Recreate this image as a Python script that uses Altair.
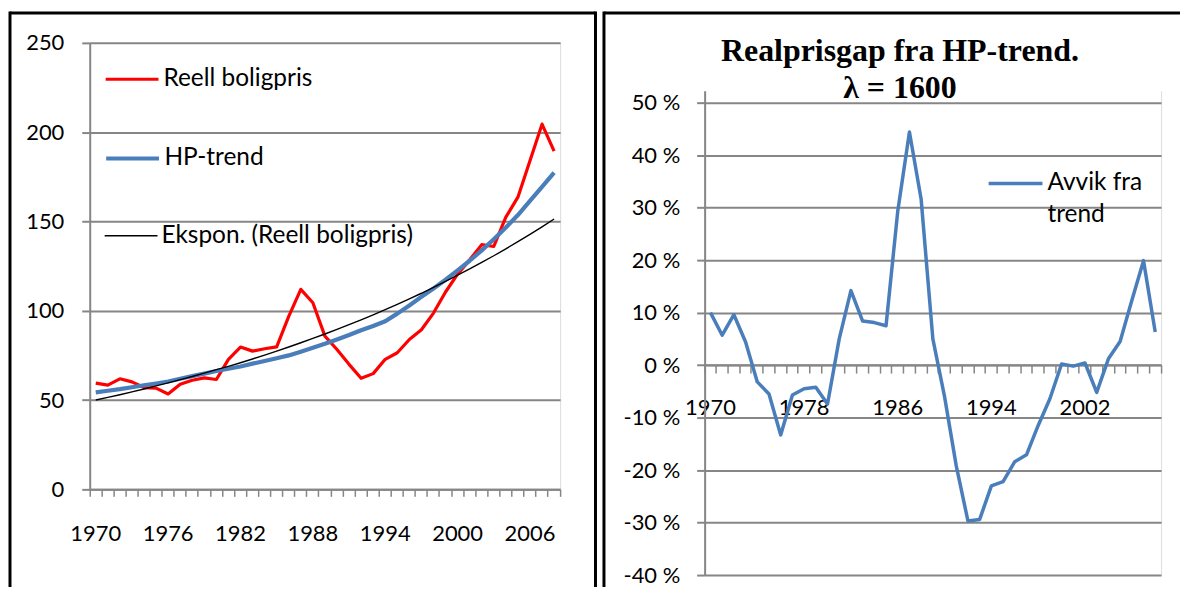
import altair as alt
import pandas as pd

years = list(range(1970, 2009))

reell = [59.5, 58.4, 61.9, 60.2, 57.0, 56.7, 53.4, 58.9, 61.1, 62.4,
         61.5, 72.8, 79.7, 77.4, 78.7, 79.8, 96.9, 112.0, 104.5, 85.8,
         78.3, 70.0, 62.2, 64.8, 72.8, 76.5, 83.9, 89.4, 98.7, 110.5,
         120.5, 128.5, 137.0, 136.0, 152.4, 163.6, 184.0, 204.5, 189.4]

hp_trend = [54.3, 55.2, 56.1, 57.2, 58.3, 59.3, 60.4, 61.9, 63.4, 64.8,
            66.3, 67.5, 68.8, 70.4, 71.9, 73.4, 75.0, 77.1, 79.3, 81.5,
            83.9, 86.4, 89.1, 91.5, 94.1, 98.4, 103.0, 107.8, 112.5, 117.4,
            122.6, 128.0, 133.8, 140.0, 146.6, 153.6, 161.5, 169.4, 177.4]

ekspon = [50.0, 51.5, 53.0, 54.6, 56.2, 57.9, 59.6, 61.4, 63.2, 65.1,
          67.0, 68.9, 70.9, 73.0, 75.2, 77.4, 79.7, 82.1, 84.5, 87.0,
          89.6, 92.2, 94.9, 97.7, 100.6, 103.6, 106.7, 109.8, 113.1, 116.4,
          119.9, 123.4, 127.1, 130.8, 134.7, 138.7, 142.8, 147.0, 151.4]

avvik = [10.0, 5.7, 9.6, 4.4, -3.2, -5.5, -13.3, -5.7, -4.5, -4.2,
         -7.4, 5.0, 14.2, 8.4, 8.1, 7.5, 29.3, 44.4, 31.6, 5.0,
         -6.0, -19.2, -29.7, -29.4, -23.0, -22.2, -18.4, -17.1, -11.5, -6.4,
         0.2, -0.2, 0.4, -5.2, 1.2, 4.5, 12.3, 19.9, 6.3]

left_names = ["Reell boligpris", "HP-trend", "Ekspon. (Reell boligpris)"]
left_colors = ["#FF0000", "#4A7EBB", "#000000"]
right_name = "Avvik fra trend"
right_color = "#4A7EBB"
left_ticks = [0, 50, 100, 150, 200, 250]
right_ticks = [-40, -30, -20, -10, 0, 10, 20, 30, 40, 50]
title_lines = ["Realprisgap fra HP-trend.", "λ = 1600"]

n = len(years)
left_df = pd.DataFrame({
    "year": years * 3,
    "value": reell + hp_trend + ekspon,
    "series": [left_names[0]] * n + [left_names[1]] * n + [left_names[2]] * n,
})
right_df = pd.DataFrame({"year": years, "value": avvik, "series": [right_name] * n})

GRID = "#868686"
BG = "#C0C0C0"
FONT = "Lato"
FS = 22
LFS = 24.5
one = alt.Data(values=[{"k": 1}])


def frame_rule(x1, x2, y1, y2):
    return alt.Chart(one).mark_rule(color="black", strokeWidth=3).encode(
        x=alt.value(x1), x2=alt.value(x2), y=alt.value(y1), y2=alt.value(y2))


# ---------- left panel ----------
LW, LH = 472, 448
x_left = alt.X("year:O", scale=alt.Scale(type="band", paddingInner=0, paddingOuter=0),
               axis=alt.Axis(title=None, labelAngle=0,
                             labelExpr="(datum.value - 1970) % 6 == 0 ? datum.label : ''",
                             labelFont=FONT, labelFontSize=FS, labelColor="black", labelPadding=27,
                             tickSize=7, tickColor=GRID, tickWidth=1.5, domainColor=GRID, domainWidth=2,
                             bandPosition=1, tickExtra=True, grid=False, labelOverlap=False))
y_left = alt.Y("value:Q", scale=alt.Scale(domain=[0, 250], nice=False),
               axis=alt.Axis(title=None, values=left_ticks, labelFont=FONT, labelFontSize=FS,
                             labelColor="black", labelPadding=18, tickSize=8, tickColor=GRID,
                             tickWidth=2, domainColor=GRID, domainWidth=2, gridColor=GRID,
                             gridWidth=2))

leg_y = [8, 87, 166]
widths = [3.2, 4.2, 1.4]
left_layers = []
for name, col, ly, w in zip(left_names, left_colors, leg_y, widths):
    left_layers.append(
        alt.Chart(left_df).transform_filter(alt.datum.series == name)
        .mark_line(strokeWidth=w, strokeJoin="round")
        .encode(
            x=x_left, y=y_left,
            color=alt.Color("series:N", scale=alt.Scale(domain=[name], range=[col]),
                            legend=alt.Legend(title=None, orient="none", legendX=14, legendY=ly,
                                              symbolType="stroke", symbolSize=2809,
                                              symbolStrokeWidth=w, labelFont=FONT,
                                              labelFontSize=LFS, labelColor="black",
                                              labelOffset=3, labelLimit=500, padding=0)))
    )

left = alt.layer(
    *left_layers,
    frame_rule(-80, 507.5, -30, -30),
    frame_rule(-80, -80, -31.5, 546),
    frame_rule(507.5, 507.5, -31.5, 546),
).resolve_scale(color="independent").properties(width=LW, height=LH)

# ---------- right panel ----------
RW, RH = 458, 534
R_TOP = 61.392
zero_offset = RH * R_TOP / (R_TOP + 40) - RH

cover = alt.Chart(one).mark_rect(color="white", y2Offset=-1.5).encode(
    x=alt.value(-2), x2=alt.value(RW + 2), y=alt.value(-1), y2=alt.datum(50))

line_r = alt.Chart(right_df).mark_line(strokeWidth=3.5, strokeJoin="round").encode(
    x=alt.X("year:O", scale=alt.Scale(type="band", paddingInner=0, paddingOuter=0),
            axis=alt.Axis(title=None, labelAngle=0, offset=zero_offset,
                          labelExpr="(datum.value - 1970) % 8 == 0 ? datum.label : ''",
                          labelFont=FONT, labelFontSize=FS, labelColor="black", labelPadding=25,
                          tickSize=8, tickColor=GRID, tickWidth=1.5, domainColor=GRID, domainWidth=2,
                          bandPosition=1, tickExtra=True, grid=False, labelOverlap=False)),
    y=alt.Y("value:Q", scale=alt.Scale(domain=[-40, R_TOP], nice=False),
            axis=alt.Axis(title=None, values=right_ticks, labelExpr="datum.value + ' %'",
                          labelFont=FONT, labelFontSize=FS, labelColor="black", labelPadding=17,
                          tickSize=8, tickColor=GRID, tickWidth=2, domainColor=GRID, domainWidth=2,
                          gridColor=GRID, gridWidth=2)),
    color=alt.Color("series:N", scale=alt.Scale(domain=[right_name], range=[right_color]),
                    legend=alt.Legend(title=None, orient="none", legendX=283, legendY=112,
                                      symbolType="stroke", symbolSize=2916, symbolStrokeWidth=3.5,
                                      labelExpr="datum.label == 'Avvik fra trend' ? ['Avvik fra', 'trend'] : datum.label",
                                      labelFont=FONT, labelFontSize=LFS, labelColor="black",
                                      labelOffset=3, labelLimit=500, padding=0)),
)

title_r = alt.Chart(one).mark_text(text=title_lines, font="Liberation Serif", fontSize=32,
                                   fontWeight="bold", align="center", baseline="alphabetic",
                                   lineHeight=37, color="black").encode(
    x=alt.value(196), y=alt.value(18))

right = alt.layer(
    cover, line_r, title_r,
    frame_rule(-101, 477, -30, -30),
    frame_rule(-101, -101, -31.5, 546),
).properties(width=RW, height=RH)

chart = alt.hconcat(left, right, spacing=4).resolve_scale(
    color="independent", x="independent", y="independent"
).properties(padding=0).configure_view(fill=BG, stroke="transparent").configure(
    font=FONT, background="white", style={"guide-label": {"lineHeight": 32}})

chart.save("out.html", embed_options={"renderer": "svg", "actions": False})
